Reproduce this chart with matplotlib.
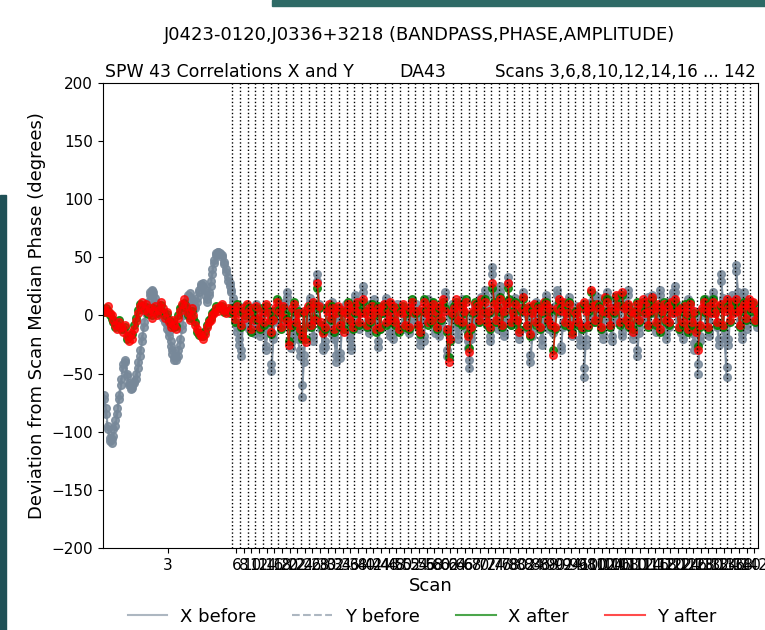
import numpy as np
import matplotlib
matplotlib.use("Agg")
import matplotlib.pyplot as plt
from matplotlib.lines import Line2D
from matplotlib.patches import Rectangle

# scan numbers shown on the x axis
scans = [3, 6, 8, 10, 12, 14, 16, 18, 20, 22, 24, 26, 28, 30, 32, 34, 36, 38, 40,
         42, 44, 46, 48, 50, 52, 54, 56, 58, 60, 62, 64, 66, 68, 70, 72, 74, 76,
         78, 80, 82, 84, 86, 88, 90, 92, 94, 96, 98, 100, 102, 104, 106, 108,
         110, 112, 114, 116, 118, 120, 122, 124, 126, 128, 130, 132, 134, 136,
         138, 140, 142]

# --- scan 3 (long scan), phase deviation in degrees ---
xb_scan3 = [-68, -80, -95, -105, -110, -104, -95, -85, -72, -60, -45, -38,
            -50, -58, -60, -62, -58, -55, -45, -35, -22, -10, 2, 10,
            18, 22, 20, 15, 10, 5, 2, 0, -3, -8, -14, -22,
            -30, -36, -38, -35, -25, -12, 0, 10, 16, 19, 14, 7,
            6, 12, 20, 25, 28, 22, 14, 18, 25, 36, 45, 52,
            55, 54, 52, 46, 40, 33, 28, 22]
yb_scan3 = [-72, -85, -98, -108, -106, -98, -90, -80, -68, -55, -42, -40,
            -52, -60, -63, -60, -56, -50, -40, -30, -18, -6, 4, 12,
            20, 21, 18, 12, 8, 4, 0, -2, -6, -12, -18, -26,
            -33, -38, -36, -30, -20, -8, 4, 12, 18, 16, 10, 5,
            8, 15, 22, 27, 25, 18, 12, 20, 30, 40, 48, 54,
            55, 53, 50, 44, 37, 30, 25, 20]
xa_scan3 = [3, 6, 4, 0, -3, -6, -10, -8, -4, -12, -12, -10,
            -20, -18, -17, -16, -8, -2, 5, 10, 8, 6, 7, 1,
            3, 0, 6, 5, 2, 4, 9, 3, 0, 1, -4, -7,
            -6, -10, -9, 0, 6, 8, 11, 6, 0, -2, 4, -2,
            -6, -14, -17, -15, -18, -13, -8, -4, -2, 2, 4, 8,
            6, 6, 8, 3, 4, 4, 2, 6]
ya_scan3 = [5, 3, 8, 2, 0, -4, -8, -12, -6, -10, -14, -8,
            -18, -22, -15, -20, -12, -5, 2, 8, 12, 5, 10, 3,
            6, -2, 4, 8, 0, 5, 12, 6, -2, 3, -6, -10,
            -4, -8, -12, -2, 4, 10, 14, 8, 2, -4, 6, 0,
            -8, -12, -15, -18, -20, -16, -10, -6, -4, 0, 2, 6,
            4, 8, 10, 5, 2, 6, 3, 5]

# --- scans 6 ... 142 (short scans, 4 samples each) ---
xb_short = [
    [15, 5, -10, -25], [-35, -5, 8, 2], [-12, 5, -8, -15], [10, -5, -18, 0],
    [-8, -30, -12, 4], [-48, -20, 5, -6], [8, -10, -3, 12], [20, -5, -28, -8],
    [-15, 6, -20, -35], [-70, -40, -10, 5], [15, -5, -22, 8], [36, 10, -8, -30],
    [-27, -10, 6, -15], [12, -20, -40, -5], [-37, -12, 4, 10], [8, -20, -30, -8],
    [18, 4, -12, 6], [25, 8, -6, -15], [10, -8, 14, -4], [-27, -12, 5, 10],
    [15, -6, -18, 4], [-20, -4, 10, 6], [8, -12, 3, -8], [-15, 5, 12, -3],
    [10, -8, -25, -6], [-22, 4, 14, 2], [12, -5, -15, 6], [-18, -6, 8, 20],
    [-35, -15, 2, 10], [8, -10, -20, -5], [14, 2, -12, -28], [-45, -20, -6, 8],
    [10, -4, 16, 2], [22, 6, -10, -22], [42, 20, 4, -12], [25, 10, -18, -6],
    [33, 12, -8, 4], [15, -6, -20, 8], [20, 4, -12, -4], [-40, -18, 2, 12],
    [10, -8, -25, -10], [18, 2, -12, 6], [-15, 8, 22, 4], [-30, -10, 6, 12],
    [16, 2, -18, -6], [8, -6, -25, -12], [-53, -25, 0, 10], [12, -4, 18, 4],
    [15, -8, -20, 2], [20, 6, -10, -22], [14, -6, 4, 18], [-18, -4, 10, 22],
    [8, -12, -20, 4], [-35, -15, 2, 12], [10, -6, 16, 6], [18, 4, -14, -4],
    [22, 6, -8, -20], [12, -10, 4, 20], [25, 10, -6, -15], [-20, -4, 8, 14],
    [10, -15, -30, -8], [-50, -22, 4, 12], [14, -6, -18, 6], [20, 4, -10, -25],
    [36, 15, -20, -53], [-25, 6, 18, 8], [43, 20, -8, -20], [20, 4, -12, 10],
    [12, -4, 6, -10]]
yb_short = [
    [12, 2, -14, -20], [-30, -8, 5, 4], [-10, 2, -12, -10], [6, -8, -14, 3],
    [-12, -26, -8, 2], [-42, -16, 2, -4], [10, -6, -6, 8], [16, -8, -24, -4],
    [-18, 2, -16, -30], [-60, -34, -6, 2], [12, -8, -18, 4], [30, 6, -12, -26],
    [-22, -6, 4, -12], [8, -16, -34, -2], [-32, -8, 2, 8], [4, -16, -26, -4],
    [14, 2, -8, 4], [20, 4, -10, -12], [6, -4, 10, -8], [-22, -8, 2, 8],
    [12, -2, -14, 2], [-16, -8, 6, 4], [6, -8, 0, -4], [-12, 2, 10, -6],
    [6, -4, -20, -2], [-18, 2, 10, 4], [8, -2, -12, 4], [-14, -8, 4, 16],
    [-30, -12, -2, 6], [4, -6, -16, -2], [10, -2, -8, -22], [-38, -16, -2, 4],
    [6, -6, 12, 0], [18, 2, -6, -18], [36, 16, 0, -8], [20, 6, -14, -2],
    [28, 8, -4, 2], [12, -2, -16, 4], [16, 2, -8, -2], [-34, -14, -2, 8],
    [6, -4, -20, -6], [14, -2, -8, 4], [-12, 4, 18, 2], [-26, -6, 2, 8],
    [12, -2, -14, -4], [4, -8, -20, -8], [-45, -20, -4, 6], [8, -6, 14, 2],
    [12, -4, -16, -2], [16, 2, -6, -18], [10, -2, 2, 14], [-14, -8, 6, 18],
    [4, -8, -16, 2], [-30, -10, -2, 8], [6, -2, 12, 2], [14, 2, -10, -2],
    [18, 2, -4, -16], [8, -6, 2, 16], [20, 6, -2, -12], [-16, -2, 4, 10],
    [6, -12, -24, -4], [-42, -18, 0, 8], [10, -4, -14, 4], [16, 2, -6, -20],
    [30, 10, -14, -44], [-20, 2, 14, 6], [38, 16, -4, -16], [16, 2, -8, 6],
    [8, -2, 4, -6]]
xa_short = [
    [3, -6, 10, 4], [-10, 4, 0, 8], [6, -14, 4, -2], [6, -4, -12, 6],
    [-8, 8, 4, -6], [-16, -2, 4, 14], [5, -12, 6, 0], [-3, -22, -10, 4],
    [12, -8, 4, -14], [-20, 2, -20, 6], [8, -10, 10, -2], [24, 6, -8, -13],
    [-12, 6, 8, -4], [8, -14, 4, 6], [-10, 3, -12, 4], [12, -6, 8, -12],
    [2, 10, -8, 4], [12, 4, -10, 4], [-6, 10, 0, -14], [8, -12, 2, 8],
    [-8, 4, 10, -6], [6, -8, 6, -14], [4, 8, -10, 2], [-12, 4, 14, 4],
    [2, -10, -16, 4], [14, 4, -8, 6], [-6, 12, 2, -12], [6, -4, 12, 6],
    [-14, -36, -22, 0], [8, 12, -6, 10], [-8, 2, 14, -16], [-28, -12, 2, 12],
    [10, -6, 12, 4], [14, -8, 2, -12], [24, 12, -6, 4], [16, -10, 2, 12],
    [24, 14, -8, 4], [12, -6, -12, 4], [14, 6, -10, 6], [-18, 4, 8, -8],
    [8, -12, 2, 10], [12, -6, 4, -10], [-30, -12, 4, 12], [6, 10, -8, 4],
    [12, -10, -14, 2], [4, -8, 6, -12], [10, 6, -10, 4], [20, 10, -6, 8],
    [8, -12, 2, 14], [14, 4, -10, 4], [2, 16, 10, -8], [18, 8, -6, 8],
    [-10, 2, -12, 4], [12, -6, 4, 12], [4, 10, -10, 2], [14, 8, -8, 8],
    [-14, 2, 12, -6], [10, -8, 10, 4], [12, 6, -12, 4], [-8, 10, 0, -14],
    [12, -8, 2, -12], [-26, -10, 4, 14], [2, -12, 10, 4], [14, 4, -8, 6],
    [8, -10, 6, 12], [8, -6, 10, 4], [12, 6, -10, 4], [12, -4, 6, 12],
    [4, 10, -6, 2]]
ya_short = [
    [5, -3, 8, 2], [-8, 6, -2, 10], [4, -12, 6, -4], [8, -2, -10, 4],
    [-6, 10, 2, -4], [-14, -4, 6, 12], [3, -10, 8, -2], [-5, -25, -8, 6],
    [10, -6, 2, -12], [-18, 4, -23, 8], [6, -8, 12, -4], [28, 8, -6, -15],
    [-10, 4, 10, -2], [6, -12, 2, 8], [-8, 5, -14, 2], [10, -4, 6, -10],
    [4, 12, -6, 2], [14, 2, -8, 6], [-4, 8, 2, -12], [6, -10, 4, 10],
    [-6, 2, 12, -4], [8, -6, 4, -12], [2, 10, -8, 4], [-10, 6, 12, 2],
    [4, -8, -14, 6], [12, 2, -6, 8], [-4, 10, 4, -10], [8, -2, 14, 4],
    [-12, -40, -20, 2], [6, 14, -4, 8], [-6, 4, 12, -18], [-31, -10, 4, 10],
    [8, -4, 14, 2], [12, -6, 4, -10], [28, 10, -4, 6], [14, -8, 4, 10],
    [28, 12, -6, 2], [10, -4, -14, 6], [16, 4, -8, 8], [-16, 2, 10, -6],
    [6, -10, 4, 12], [10, -4, 6, -8], [-34, -10, 6, 14], [4, 12, -6, 2],
    [10, -8, -16, 4], [2, -6, 8, -10], [12, 4, -8, 6], [22, 8, -4, 10],
    [6, -10, 4, 16], [12, 2, -8, 6], [4, 18, 8, -6], [20, 6, -4, 10],
    [-8, 4, -14, 2], [10, -4, 6, 14], [2, 12, -8, 4], [16, 6, -6, 10],
    [-12, 4, 10, -4], [8, -6, 12, 2], [14, 4, -10, 6], [-6, 8, 2, -12],
    [10, -6, 4, -14], [-30, -8, 6, 12], [4, -10, 8, 2], [12, 2, -6, 8],
    [10, -8, 4, 14], [6, -4, 12, 2], [14, 4, -8, 6], [10, -2, 8, 14],
    [6, 12, -4, 4]]

series_x_before = [xb_scan3] + xb_short
series_y_before = [yb_scan3] + yb_short
series_x_after = [xa_scan3] + xa_short
series_y_after = [ya_scan3] + ya_short

GREY = "#778899"

fig = plt.figure(figsize=(7.65, 6.3), dpi=100)
ax = fig.add_axes([0.1346, 0.1302, 0.8562, 0.7381])

# sample positions, scan by scan
starts = []
pos = 0
for seg in series_x_before:
    starts.append(pos)
    pos += len(seg)
total = pos

for i in range(len(scans)):
    n = len(series_x_before[i])
    t = np.arange(starts[i], starts[i] + n)
    ax.plot(t, series_x_before[i], "-", marker="o", ms=5.5, lw=1.5, color=GREY, alpha=0.85)
    ax.plot(t, series_y_before[i], "--", marker="o", ms=5.5, lw=1.5, color=GREY, alpha=0.85)
for i in range(len(scans)):
    n = len(series_x_before[i])
    t = np.arange(starts[i], starts[i] + n)
    ax.plot(t, series_x_after[i], "-", marker="o", ms=5.5, lw=1.2, color="green", alpha=0.8)
    ax.plot(t, series_y_after[i], "-", marker="o", ms=5.5, lw=1.2, color="red", alpha=0.75)

# dotted separators between scans
for s in starts[1:]:
    ax.axvline(s - 0.5, color="black", ls=":", lw=1)

centers = [starts[i] + (len(series_x_before[i]) - 1) / 2.0 for i in range(len(scans))]
ax.set_xticks(centers)
ax.set_xticklabels([str(s) for s in scans], fontsize=11)
ax.set_xlim(-0.5, total - 0.5)
ax.set_ylim(-200, 200)
ax.set_yticks(np.arange(-200, 201, 50))
ax.tick_params(labelsize=11)
ax.set_xlabel("Scan", fontsize=13, labelpad=3)
ax.set_ylabel("Deviation from Scan Median Phase (degrees)", fontsize=13)

fig.text(0.549, 0.944, "J0423-0120,J0336+3218 (BANDPASS,PHASE,AMPLITUDE)",
         ha="center", va="center", fontsize=13)
fig.text(0.137, 0.886, "SPW 43 Correlations X and Y", ha="left", va="center", fontsize=12.5)
fig.text(0.553, 0.886, "DA43", ha="center", va="center", fontsize=12.5)
fig.text(0.9875, 0.886, "Scans 3,6,8,10,12,14,16 ... 142", ha="right", va="center", fontsize=12)

handles = [Line2D([], [], color=GREY, lw=1.5, ls="-", alpha=0.6),
           Line2D([], [], color=GREY, lw=1.5, ls="--", alpha=0.6),
           Line2D([], [], color="green", lw=1.5, alpha=0.7),
           Line2D([], [], color="red", lw=1.5, alpha=0.7)]
fig.legend(handles, ["X before", "Y before", "X after", "Y after"], ncol=4,
           loc="center", bbox_to_anchor=(0.552, 0.021), frameon=False, fontsize=13,
           columnspacing=2.0, handlelength=2.2, handletextpad=0.7)

# bits of the desktop around the window
fig.patches.append(Rectangle((272 / 765, 1 - 6 / 630), 1, 6 / 630, transform=fig.transFigure,
                             color="#2e6a66", zorder=-1))
fig.patches.append(Rectangle((0, 0), 6 / 765, 1 - 195 / 630, transform=fig.transFigure,
                             color="#1f5056", zorder=-1))

fig.savefig("out.png", dpi=100)
